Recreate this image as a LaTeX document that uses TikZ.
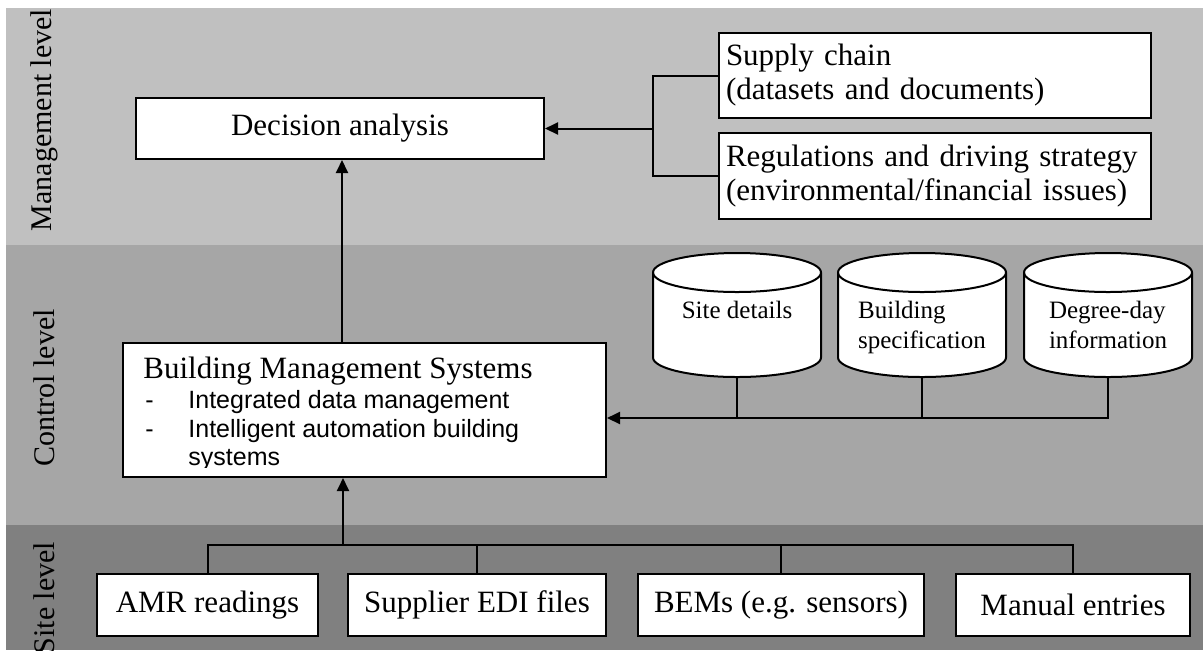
\documentclass[tikz,border=0pt]{standalone}
\usepackage{fontspec}
\setmainfont{Liberation Serif}
\newfontfamily\arialf{Liberation Sans}
\usetikzlibrary{arrows.meta}
\definecolor{mgmtc}{HTML}{C0C0C0}
\definecolor{ctrlc}{HTML}{A6A6A6}
\definecolor{sitec}{HTML}{808080}
\begin{document}
\begin{tikzpicture}[x=0.5pt,y=-0.5pt,
  mainf/.style={font=\fontsize{15.5pt}{17pt}\selectfont},
  cylf/.style={font=\fontsize{12.5pt}{15pt}\selectfont},
  bulf/.style={font=\arialf\fontsize{12.5pt}{14.5pt}\selectfont},
  box/.style={draw=black, line width=1pt, fill=white, inner sep=0pt, mainf},
  conn/.style={line width=1pt},
  arr/.style={conn, -{Triangle[length=6.5pt,width=6pt]}},
  lvl/.style={rotate=90, inner sep=0pt, font=\fontsize{15pt}{17pt}\selectfont}
]
\useasboundingbox (0,0) rectangle (1203,650);
% bands
\fill[mgmtc] (6,8) rectangle (1203,245);
\fill[ctrlc] (6,245) rectangle (1203,525);
\fill[sitec] (6,525) rectangle (1203,650);
% level labels
\node[lvl] (lm) at (44,120) {Management level};
\node[lvl] (lc) at (44,388) {Control level};
\node[lvl] (ls) at (44,598) {Site level};
% management level
\node[box, minimum width=204pt, minimum height=30.5pt] (dec) at (340,128.5) {Decision analysis};
\node[box, minimum width=216pt, minimum height=42.5pt, text width=209pt, align=left] (sup) at (935,75.5) {Supply chain\\(datasets and documents)};
\node[box, minimum width=216pt, minimum height=43pt, text width=209pt, align=left] (reg) at (935,176) {Regulations and driving strategy\\(environmental/financial issues)};
\coordinate (jm) at (653,128.5);
\draw[conn] (sup.west) -| (jm);
\draw[conn] (reg.west) -| (jm);
\draw[arr] (jm) -- (dec.east);
% control level
\node[box, minimum width=241.5pt, minimum height=67pt] (bms) at (364.5,410) {};
\begin{scope}
\clip (124,344) rectangle (605,467);
\node[anchor=base west, inner sep=0pt, mainf] (bmsT) at (143,378) {Building Management Systems};
\node[anchor=base west, inner sep=0pt, bulf] (d1) at (145,408) {-};
\node[anchor=base west, inner sep=0pt, bulf] (l1) at (188,408) {Integrated data management};
\node[anchor=base west, inner sep=0pt, bulf] (d2) at (145,437) {-};
\node[anchor=base west, inner sep=0pt, bulf] (l2) at (188,437) {Intelligent automation building};
\node[anchor=base west, inner sep=0pt, bulf] (l3) at (188,465) {systems};
\end{scope}
\draw[arr] ([xshift=-11.25pt]bms.north) -- ([xshift=-11.25pt]bms.north |- dec.south);
% cylinders
\foreach \cx/\nm in {737/c1, 922/c2, 1108/c3} {
  \node[minimum width=84pt, minimum height=62pt, inner sep=0pt] (\nm) at (\cx,315) {};
  \filldraw[fill=white, draw=black, line width=1pt] (\cx-84,272.5) -- (\cx-84,357.5)
     arc[start angle=180, end angle=360, x radius=42pt, y radius=9.75pt]
     -- (\cx+84,272.5)
     arc[start angle=0, end angle=180, x radius=42pt, y radius=9.75pt] -- cycle;
  \draw[line width=1pt] (\cx-84,272.5) arc[start angle=180, end angle=360, x radius=42pt, y radius=9.75pt];
}
\node[cylf, anchor=north, inner sep=0pt] (c1t) at (737,301) {Site details};
\node[cylf, anchor=north, inner sep=0pt, align=left] (c2t) at (922,301) {Building\\specification};
\node[cylf, anchor=north, inner sep=0pt, align=left] (c3t) at (1108,301) {Degree-day\\information};
\coordinate (cb) at (1108,418);
\draw[conn] (c1.south) -- (c1.south |- cb);
\draw[conn] (c2.south) -- (c2.south |- cb);
\draw[arr] (c3.south) -- (c3.south |- cb) -- (bms.east |- cb);
% site level
\node[box, minimum width=110.5pt, minimum height=31pt] (amr) at (207.5,605) {AMR readings};
\node[box, minimum width=129pt, minimum height=31pt] (edi) at (477,605) {Supplier EDI files};
\node[box, minimum width=143pt, minimum height=31pt] (bem) at (781,605) {BEMs (e.g. sensors)};
\node[box, minimum width=117pt, minimum height=31pt] (man) at (1073,605) {Manual entries};
\coordinate (sb) at (343,545);
\draw[conn] (amr.north) -- (amr.north |- sb) -- (man.north |- sb) -- (man.north);
\draw[conn] (edi.north) -- (edi.north |- sb);
\draw[conn] (bem.north) -- (bem.north |- sb);
\draw[arr] (sb) -- (sb |- bms.south);
\end{tikzpicture}
\end{document}
